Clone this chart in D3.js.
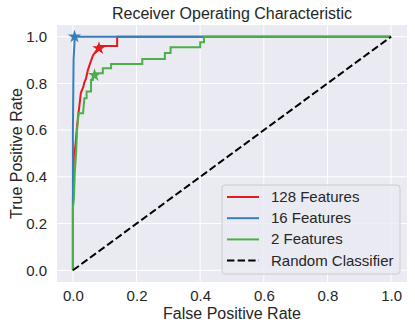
<!DOCTYPE html>
<html>
<head>
<meta charset="utf-8">
<script src="https://cdn.jsdelivr.net/npm/d3@7"></script>
<style>
  body { margin: 0; background: #fff; }
  text { font-family: "Liberation Sans", Arial, sans-serif; fill: #262626; }
</style>
</head>
<body>
<script>
// ROC points (fpr, tpr)
var fpr128 = [0, 0, 0.003, 0.006, 0.009, 0.012, 0.017, 0.020, 0.025, 0.033, 0.035, 0.041, 0.047, 0.056, 0.063, 0.079, 0.079, 0.139, 0.139, 1];
var tpr128 = [0, 0.30, 0.50, 0.51, 0.55, 0.60, 0.67, 0.70, 0.76, 0.786, 0.80, 0.82, 0.857, 0.893, 0.92, 0.95, 0.96, 0.96, 1, 1];
var fpr16 = [0, 0, 0, 0.002, 0.006, 1];
var tpr16 = [0, 0.27, 0.60, 0.90, 1, 1];
var fpr2 = [0, 0, 0.003, 0.006, 0.010, 0.013, 0.018, 0.032, 0.036, 0.043, 0.043, 0.057, 0.057, 0.063, 0.066, 0.094, 0.094, 0.120, 0.120, 0.218, 0.218, 0.289, 0.289, 0.307, 0.307, 0.400, 0.400, 0.412, 0.412, 1];
var tpr2 = [0, 0.27, 0.30, 0.42, 0.50, 0.60, 0.672, 0.672, 0.736, 0.736, 0.765, 0.765, 0.815, 0.815, 0.843, 0.843, 0.865, 0.865, 0.883, 0.883, 0.905, 0.905, 0.93, 0.93, 0.955, 0.955, 0.976, 0.976, 1, 1];

// best thresholds (stars)
var starX = [0.082, 0.005, 0.068];
var starY = [0.95, 1.0, 0.835];

var names = ["128 Features", "16 Features", "2 Features"];
var colors = ["#e41a1c", "#377eb8", "#4daf4a"];
var ticks = [0, 0.2, 0.4, 0.6, 0.8, 1.0];

var width = 415, height = 331;
var margin = {top: 25, right: 8, bottom: 49, left: 57};

var svg = d3.select("body").append("svg")
  .attr("width", width)
  .attr("height", height);

var x = d3.scaleLinear().domain([-0.05, 1.05]).range([margin.left, width - margin.right]);
var y = d3.scaleLinear().domain([-0.05, 1.05]).range([height - margin.bottom, margin.top]);

//background
svg.append("rect")
  .attr("x", margin.left).attr("y", margin.top)
  .attr("width", width - margin.left - margin.right)
  .attr("height", height - margin.top - margin.bottom)
  .attr("fill", "#eaeaf2");

//grid
svg.append("g").selectAll("line").data(ticks).enter().append("line")
  .attr("x1", function(d){return x(d);}).attr("x2", function(d){return x(d);})
  .attr("y1", margin.top).attr("y2", height - margin.bottom)
  .attr("stroke", "#fff").attr("stroke-width", 1);
svg.append("g").selectAll("line").data(ticks).enter().append("line")
  .attr("y1", function(d){return y(d);}).attr("y2", function(d){return y(d);})
  .attr("x1", margin.left).attr("x2", width - margin.right)
  .attr("stroke", "#fff").attr("stroke-width", 1);

//axes
var xAxis = svg.append("g")
  .attr("transform", "translate(0," + (height - margin.bottom) + ")")
  .call(d3.axisBottom(x).tickValues(ticks).tickFormat(d3.format(".1f")).tickSize(0).tickPadding(8));
var yAxis = svg.append("g")
  .attr("transform", "translate(" + margin.left + ",0)")
  .call(d3.axisLeft(y).tickValues(ticks).tickFormat(d3.format(".1f")).tickSize(0).tickPadding(10));
svg.selectAll(".domain").remove();
svg.selectAll(".tick text")
  .attr("font-size", 15)
  .attr("font-family", "Liberation Sans, Arial, sans-serif")
  .attr("fill", "#262626");

//curves
var line = d3.line()
  .x(function(d){return x(d[0]);})
  .y(function(d){return y(d[1]);});

var series = [d3.zip(fpr128, tpr128), d3.zip(fpr16, tpr16), d3.zip(fpr2, tpr2)];
var star = d3.symbol().type(d3.symbolStar).size(55);

series.forEach(function(s, i){
  svg.append("path")
    .datum(s)
    .attr("d", line)
    .attr("fill", "none")
    .attr("stroke", colors[i])
    .attr("stroke-width", 2)
    .attr("stroke-linejoin", "miter");
  svg.append("path")
    .attr("d", star)
    .attr("transform", "translate(" + x(starX[i]) + "," + y(starY[i]) + ")")
    .attr("fill", colors[i]);
});

svg.append("path")
  .datum([[0, 0], [1, 1]])
  .attr("d", line)
  .attr("fill", "none")
  .attr("stroke", "#000")
  .attr("stroke-width", 2)
  .attr("stroke-dasharray", "7.4,3.2");

//titles
svg.append("text")
  .attr("x", (margin.left + width - margin.right) / 2)
  .attr("y", 19)
  .attr("text-anchor", "middle")
  .attr("font-size", 16)
  .text("Receiver Operating Characteristic");
svg.append("text")
  .attr("x", (margin.left + width - margin.right) / 2)
  .attr("y", 319)
  .attr("text-anchor", "middle")
  .attr("font-size", 16)
  .text("False Positive Rate");
svg.append("text")
  .attr("transform", "translate(21.5," + ((margin.top + height - margin.bottom) / 2) + ") rotate(-90)")
  .attr("text-anchor", "middle")
  .attr("font-size", 16)
  .text("True Positive Rate");

//legend
var legendNames = names.concat(["Random Classifier"]);
var legendColors = colors.concat(["#000"]);
var legend = svg.append("g").attr("transform", "translate(222,185)");
legend.append("rect")
  .attr("width", 178).attr("height", 89)
  .attr("rx", 3)
  .attr("fill", "#eaeaf2").attr("fill-opacity", 0.8)
  .attr("stroke", "#cccccc").attr("stroke-width", 1);
var rows = legend.selectAll("g.row").data(legendNames).enter().append("g")
  .attr("class", "row")
  .attr("transform", function(d, i){return "translate(0," + (12 + i * 21.2) + ")";});
rows.append("line")
  .attr("x1", 5).attr("x2", 37)
  .attr("stroke", function(d, i){return legendColors[i];})
  .attr("stroke-width", 2)
  .attr("stroke-dasharray", function(d, i){return i == 3 ? "7.4,3.2" : null;});
rows.append("text")
  .attr("x", 49).attr("y", 5)
  .attr("font-size", 15)
  .text(function(d){return d;});
</script>
</body>
</html>
